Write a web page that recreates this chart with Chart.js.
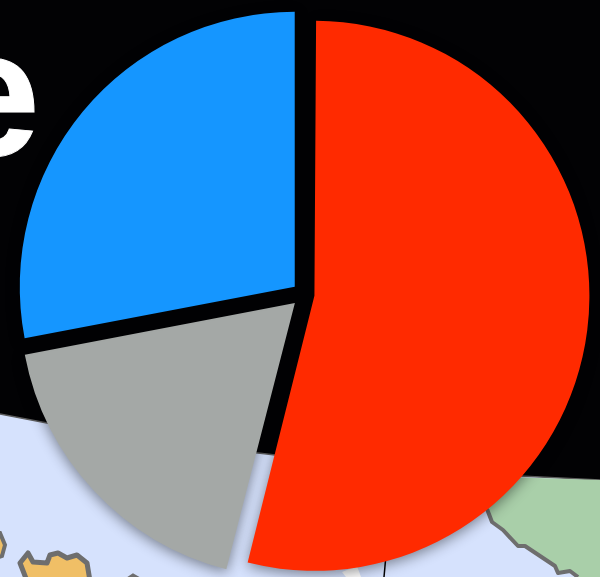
<!DOCTYPE html>
<html lang="en">
<head>
<meta charset="UTF-8">
<title>Pie</title>
<script src="https://cdn.jsdelivr.net/npm/chart.js"></script>
<style>
  html, body { margin: 0; padding: 0; background: #020204; }
  #stage { position: relative; width: 600px; height: 577px; overflow: hidden; }
  #map, #word, #pie { position: absolute; left: 0; top: 0; }
  #word {
    left: -60px; top: 3px;
    font: bold 180px/1 "Liberation Sans", Arial, sans-serif;
    color: #fff;
    -webkit-text-stroke: 1px #fff;
  }
</style>
</head>
<body>
<div id="stage">
  <!-- map behind the pie -->
  <svg id="map" width="600" height="577" viewBox="0 0 600 577">
    <path d="M0 414 L47 423 Q150 440 258 453 Q400 470 520 476 L600 480 L600 577 L0 577 Z" fill="#d6e2fd"/>
    <path d="M0 414 L47 423 Q150 440 258 453 Q400 470 520 476 L600 480" fill="none" stroke="#5c5c5c" stroke-width="1.5"/>
    <path d="M480 476 L487 509 L492 522 L503 530 L518 546 L525 546 L555 566 L558 573 L570 571 L578 577 L600 577 L600 480 Z" fill="#a9cfa9"/>
    <path d="M487 509 L492 522 L503 530 L518 546 L525 546 L555 566 L558 573 L570 571 L578 577" fill="none" stroke="#6e6e6e" stroke-width="4" stroke-linejoin="round"/>
    <path d="M-4 533 L0 533 L5 545 L2 556 L-4 558 Z" fill="#f0bf66" stroke="#6e6e6e" stroke-width="4"/>
    <path d="M20 563 L28 553 L33 562 L47 563 L50 555 L58 553 L67 558 L77 555 L87 563 L90 581 L27 581 Z" fill="#f0bf66" stroke="#6e6e6e" stroke-width="5" stroke-linejoin="round"/>
    <path d="M127 579 L133 575 L140 579" fill="none" stroke="#6e6e6e" stroke-width="3"/>
    <path d="M342 572 L357 566 L361 577 L346 577 Z" fill="#fff"/>
    <path d="M386 555 L384 577" fill="none" stroke="#000" stroke-width="1.5"/>
  </svg>
  <div id="word">e</div>
  <canvas id="pie" width="600" height="577"></canvas>
</div>
<script>
const labels = ["Red", "Grey", "Blue"]
const values = [54, 18, 28]
const colors = ["#ff2a00", "#a4a8a6", "#1596ff"]
const offsets = [42, 50, 48] // the arc element moves by offset / 4

// soft drop shadow under the slices, only shows up on the light map
const pieShadow = {
  id: "pieShadow",
  beforeDatasetsDraw(chart) {
    const ctx = chart.ctx
    ctx.save()
    ctx.shadowColor = "rgba(0, 0, 0, 0.45)"
    ctx.shadowBlur = 14
    ctx.shadowOffsetY = 3
  },
  afterDatasetsDraw(chart) {
    chart.ctx.restore()
  },
}

// the arc element grows wide slices by their offset, undo that so all radii stay equal
const evenRadius = {
  id: "evenRadius",
  afterDatasetsUpdate(chart) {
    chart.getDatasetMeta(0).data.forEach((arc, i) => {
      const fix = 1 - Math.sin(Math.min(Math.PI, arc.circumference))
      arc.outerRadius -= (offsets[i] / 4) * fix
    })
  },
}

new Chart(document.getElementById("pie").getContext("2d"), {
  type: "pie",
  data: {
    labels: labels,
    datasets: [
      {
        data: values,
        backgroundColor: colors,
        borderWidth: 0,
        offset: offsets,
        clip: false,
      },
    ],
  },
  options: {
    responsive: false,
    animation: false,
    radius: 275,
    layout: { padding: { left: 8, top: 12 } },
    plugins: {
      legend: { display: false },
      tooltip: { enabled: false },
    },
  },
  plugins: [evenRadius, pieShadow],
})
</script>
</body>
</html>
